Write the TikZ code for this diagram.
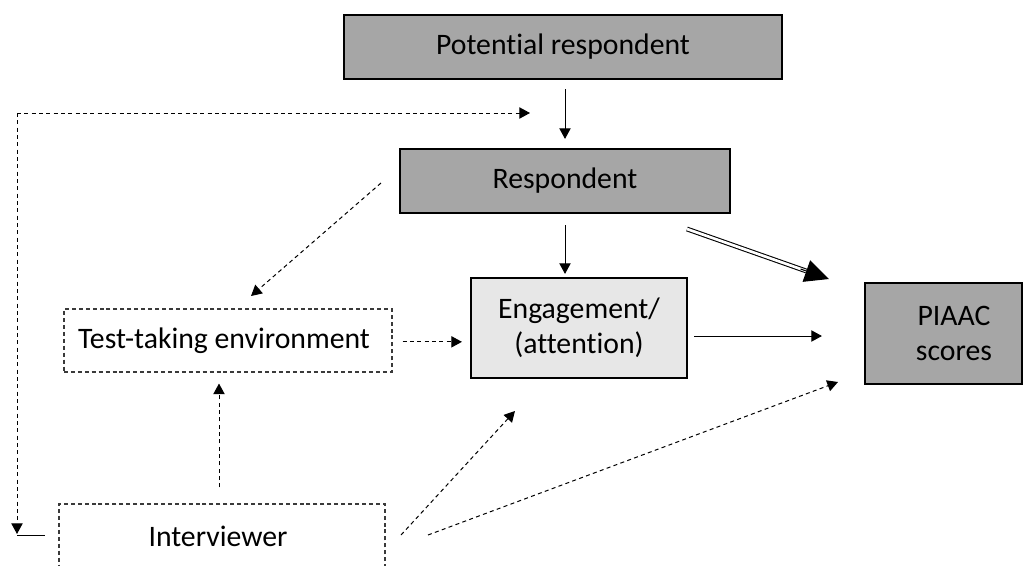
\documentclass[tikz,border=0pt]{standalone}
\usepackage{fontspec}
\setmainfont{Carlito}[Ligatures=NoCommon]
\usetikzlibrary{arrows.meta,calc}
\definecolor{boxgray}{HTML}{A6A6A6}
\definecolor{boxlight}{HTML}{E7E7E7}
\definecolor{dashgray}{HTML}{3A3A3A}
\begin{document}
\begin{tikzpicture}[x=0.75pt,y=-0.75pt,
  every node/.style={font=\fontsize{22.3}{26.5}\selectfont, align=center, inner sep=0pt, text=black},
  gbox/.style={draw=black, line width=1.6pt, fill=boxgray},
  lbox/.style={draw=black, line width=1.6pt, fill=boxlight},
  dbox/.style={draw=dashgray, line width=0.8pt, dash pattern=on 3pt off 2.2pt},
  tip/.style={-{Triangle[length=8pt,width=8.5pt]}},
  sarr/.style={tip, line width=0.75pt},
  darr/.style={tip, line width=0.75pt, dash pattern=on 3pt off 2.5pt},
]
\useasboundingbox (0,0) rectangle (1033,565);
\clip (0,0) rectangle (1033,565);

% boxes
\node[gbox, minimum width=328.5pt, minimum height=48pt] (pot) at (563,47) {Potential respondent};
\node[gbox, minimum width=247.5pt, minimum height=48pt] (resp) at (565,181) {Respondent};
\node[lbox, minimum width=162pt, minimum height=75pt] (eng) at (579,328) {Engagement/\\(attention)};
\node[gbox, minimum width=117.75pt, minimum height=75.75pt] (piaac) at (943.5,333.5) {};
\node (piaactext) at (954,333.5) {PIAAC\\scores};
\node[dbox, minimum width=246pt, minimum height=47.25pt] (env) at (228,340.5) {};
\node (envtext) at (224,340.5) {Test-taking environment};
\node[dbox, minimum width=244.5pt, minimum height=48pt] (int) at (222,536) {};
\node (inttext) at (218,536) {Interviewer};

% solid arrows
\draw[sarr, shorten <=6.75pt, shorten >=6.75pt] (resp.north |- pot.south) -- (resp.north);
\draw[sarr, shorten <=8.25pt, shorten >=2.25pt] (resp.south) -- (resp.south |- eng.north);
\draw[sarr, shorten <=4.5pt, shorten >=31.5pt] ([yshift=-6pt]eng.east) -- ([yshift=-6pt]eng.east -| piaac.west);

% dashed arrows
\draw[darr, shorten <=7.5pt, shorten >=6pt] ([yshift=-1pt]env.east) -- ([yshift=-1pt]env.east -| eng.west);
\coordinate (r1) at (381,183);
\coordinate (r2) at (251,296);
\draw[darr] (r1) -- (r2);
\draw[darr, shorten <=12pt, shorten >=8.25pt] ([xshift=-2.25pt]int.north) -- ([xshift=-2.25pt]int.north |- env.south);
\coordinate (i1) at (401,535);
\coordinate (i1t) at (515,411);
\draw[darr] (i1) -- (i1t);
\coordinate (i2) at (428,535);
\coordinate (i2t) at (838,382);
\draw[darr] (i2) -- (i2t);

% double arrow
\coordinate (dA) at (687,229);
\coordinate (dB) at (829,279);
\draw[line width=0.8pt, double, double distance=2pt] (dA) -- ($(dA)!0.84!(dB)$);
\draw[-{Triangle[length=18pt,width=17pt]}, line width=0.8pt] ($(dA)!0.8!(dB)$) -- (dB);

% feedback loop
\coordinate (lc) at (17,113);
\coordinate (lt) at (530,113);
\coordinate (lb) at (17,534);
\coordinate (ls) at (45,535);
\draw[darr] (lc) -- (lt);
\draw[darr] (lc) -- (lb);
\draw[line width=0.75pt] (lb |- ls) -- (ls);
\end{tikzpicture}
\end{document}
